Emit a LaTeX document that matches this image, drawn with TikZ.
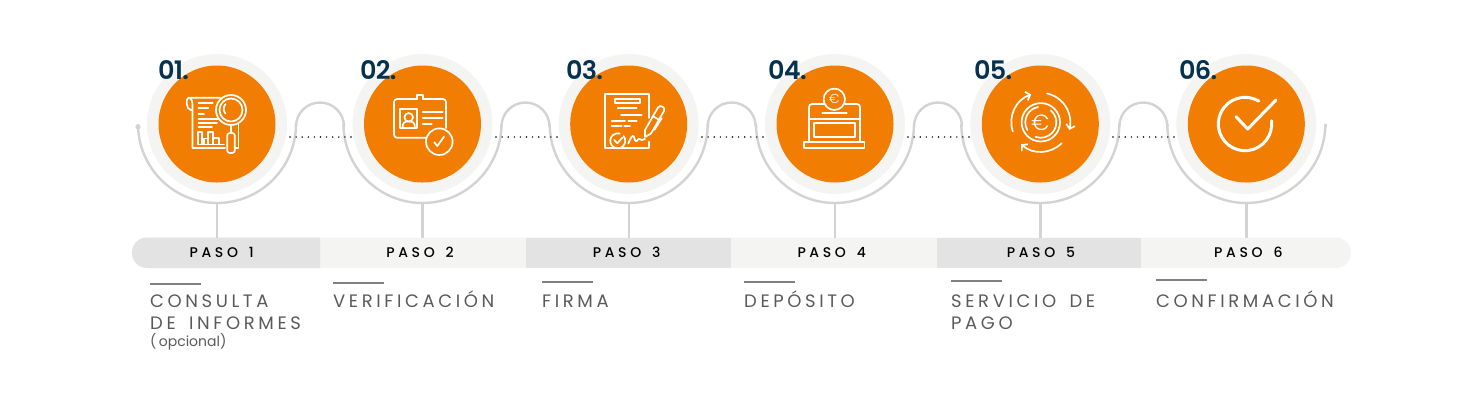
\documentclass[tikz,border=0pt]{standalone}
\usepackage{fontspec}
\setmainfont{Poppins}
\newfontfamily\numfont[LetterSpace=-3]{Poppins SemiBold}
\newfontfamily\pasofont[LetterSpace=26,WordSpace=1.5]{Poppins Medium}
\newfontfamily\capfont[LetterSpace=20,WordSpace=1.6]{Poppins}
\newfontfamily\thinfont{Poppins Light}
\usetikzlibrary{arrows.meta}
\definecolor{discorange}{HTML}{F17E02}
\definecolor{ringgrey}{HTML}{F4F4F3}
\definecolor{wiregrey}{HTML}{D3D3D3}
\definecolor{bardark}{HTML}{E3E3E3}
\definecolor{numblue}{HTML}{05324F}
\definecolor{capgrey}{HTML}{5A5A5A}
\begin{document}
\begin{tikzpicture}[x=1pt,y=-1pt]
        \tikzset{
            wire/.style={draw=wiregrey,line width=2.4pt},
            ring/.style={circle,fill=ringgrey,minimum size=140pt,inner sep=0pt},
            disc/.style={circle,fill=discorange,minimum size=117pt,inner sep=0pt},
            dots/.style={line width=1.6pt,line cap=round,dash pattern=on 0pt off 6.1pt},
            numlabel/.style={anchor=base west,inner sep=0pt,text=numblue,font=\numfont\fontsize{25.5}{26}\selectfont},
            pasolabel/.style={inner sep=0pt,text=black,font=\pasofont\fontsize{14}{14}\selectfont},
            caplabel/.style={anchor=base west,inner sep=0pt,align=left,text=capgrey,font=\capfont\fontsize{18}{22}\selectfont},
            rulebar/.style={draw=gray,line width=2pt},
            icon/.style={draw=white,line width=1.7pt,line cap=round,line join=round},
            iconbold/.style={draw=white,line width=3pt,line cap=round,line join=round},
            tipped/.style={icon,-{Straight Barb[length=4pt,width=9pt]}}
          }
        \useasboundingbox (0,0) rectangle (1480,400);

        % bar
        \fill[ringgrey,rounded corners=15pt] (132,237.5) rectangle (1351,268);
        \fill[bardark] (320,237.5) [rounded corners=15pt] -- (132,237.5) -- (132,268) [sharp corners] -- (320,268) -- cycle;
        \fill[bardark] (525.5,237.5) rectangle (731,268);
        \fill[bardark] (937,237.5) rectangle (1141,268);

        % rings and wire
        \foreach \i/\cx in {1/217,2/422.5,3/628.7,4/835,5/1040.3,6/1246.3}{
            \node[ring] (ring\i) at (\cx,124) {};
            \coordinate (wb\i) at (\cx,203);
            \coordinate (bt\i) at (\cx,237.5);
            \draw[wire] (wb\i) -- (bt\i);
            \draw[wire] (\cx-79,124) arc (180:0:79);
        }
        \coordinate (wirestart) at (138,124);
        \fill[wiregrey] (wirestart) ++(0,3) circle (2.6pt);
        \draw[wire] (138,127) -- (wirestart);
        \coordinate (wireend) at (1325.3,127);
        \draw[wire] (1325.3,124) -- (wireend);
        \foreach \cx in {296,501.5,707.7,914,1119.3}{
            \draw[wire] (\cx,124) -- ++(0,2.5) arc (180:360:24) -- ++(0,-2.5);
        }

        % dotted links
        \foreach \i/\a/\b in {1/290/354,2/496/559,3/702/764,4/908/970,5/1113/1175}{
            \coordinate (da\i) at (\a,137);
            \coordinate (db\i) at (\b,137);
            \draw[dots] (da\i) -- (db\i);
        }

        % discs
        \foreach \i/\cx in {1/217,2/422.5,3/628.7,4/835,5/1040.3,6/1246.3}{
            \node[disc] (disc\i) at (\cx,124) {};
        }

        % numbers
        \node[numlabel] (num1) at (158,79) {01.};
        \node[numlabel] (num2) at (360,79) {02.};
        \node[numlabel] (num3) at (566,79) {03.};
        \node[numlabel] (num4) at (768,79) {04.};
        \node[numlabel] (num5) at (974,79) {05.};
        \node[numlabel] (num6) at (1179,79) {06.};

        % bar labels
        \node[pasolabel] (paso1) at (221.7,252.5) {PASO 1};
        \node[pasolabel] (paso2) at (420,252.5) {PASO 2};
        \node[pasolabel] (paso3) at (626.7,252.5) {PASO 3};
        \node[pasolabel] (paso4) at (831.7,252.5) {PASO 4};
        \node[pasolabel] (paso5) at (1041,252.5) {PASO 5};
        \node[pasolabel] (paso6) at (1248.3,252.5) {PASO 6};

        % captions
        \foreach \i/\x/\y in {1/150/284,2/333/283,3/542/282,4/744/281.5,5/951/280.5,6/1156/280}{
            \coordinate (ra\i) at (\x,\y);
            \coordinate (rb\i) at (\x+51,\y);
            \draw[rulebar] (ra\i) -- (rb\i);
        }
        \node[caplabel] (cap1) at (150,329.5) {CONSULTA\\DE INFORMES};
        \node[anchor=base west,inner sep=0pt,text=capgrey,font=\fontsize{14}{14}\selectfont] (opc1) at (150,346.5) {(\,opcional)};
        \node[caplabel] (cap2) at (333,307.5) {VERIFICACIÓN};
        \node[caplabel] (cap3) at (542,307.5) {FIRMA};
        \node[caplabel] (cap4) at (744,307.5) {DEPÓSITO};
        \node[caplabel] (cap5) at (951,329.5) {SERVICIO DE\\PAGO};
        \node[caplabel] (cap6) at (1156,307.5) {CONFIRMACIÓN};

        % icon 1
        \draw[icon] (220,97.7) -- (188.5,97.7) .. controls (185.5,98) and (186,110) .. (191,110) -- (192.5,110);
        \draw[icon] (188.5,97.7) .. controls (192,98) and (192.5,102) .. (192.5,106) -- (192.5,148) -- (225,148);
        \draw[icon] (238.5,123) -- (238.5,148) -- (235,148);
        \draw[icon] (198.5,103.3) -- (212.7,103.3) (198.5,107.7) -- (208.3,107.7) (198.5,114.3) -- (204,114.3)
            (198.5,119.3) -- (218,119.3) (198.5,123.3) -- (217,123.3) (198.5,127.3) -- (212,127.3);
        \draw[icon] (198,144.5) -- (198,132) -- (202,132) -- (202,144.5) (204,144.5) -- (204,138.5) -- (208,138.5) -- (208,144.5)
            (208,138.5) -- (208,132) -- (213,132) -- (213,144.5) (213,138) -- (219,138) -- (219,144.5) (198,144.5) -- (224,144.5);
        \draw[icon,fill=discorange] (231,110) circle (15);
        \draw[icon] (231,110) circle (11.5);
        \draw[icon] (225.5,104) arc (220:140:7.5);
        \draw[icon] (231,125) -- (231,132.5);
        \draw[icon,rounded corners=2.5pt] (227.2,133) rectangle (234.8,153);

        % icon 2
        \draw[icon,rounded corners=3pt] (417.3,99) -- (394,99) -- (394,137.7) -- (428,137.7) (423.3,99) -- (446,99) -- (446,128);
        \draw[icon] (417.3,99) -- (417.3,95) -- (423.3,95) -- (423.3,99);
        \draw[icon] (400,109) rectangle (417.3,128.3);
        \draw[icon] (408.7,117.3) circle (4.3);
        \draw[icon] (402.5,128) .. controls (402.5,122) and (405,121.5) .. (408.7,121.5) .. controls (412.5,121.5) and (415,122) .. (415,128);
        \draw[icon] (422.7,112.3) -- (442.7,112.3) (422.7,117.7) -- (442.7,117.7) (422.7,124) -- (431.7,124);
        \draw[icon,fill=discorange] (439.3,141.7) circle (13.3);
        \draw[icon] (434.3,142.3) -- (437.3,146) -- (444,136.7);

        % icon 3
        \draw[icon] (649,118) -- (649,94.3) -- (605,94.3) -- (605,148.3) -- (649,148.3) -- (649,141.7);
        \draw[icon] (615,99) rectangle (640,103.3);
        \draw[icon] (617.7,108.3) -- (636.7,108.3) (621,115) -- (641.7,115) (611.7,121) -- (625,121) (628.3,121) -- (636.7,121)
            (611.7,125.7) -- (621.7,125.7) (624.3,125.7) -- (630,125.7);
        \draw[icon] (623.5,136) arc (-40:285:7.5);
        \draw[icon] (614.3,140) -- (617.3,143.3) -- (622.3,137.7);
        \draw[icon] (628.3,143.5) .. controls (631,137) and (633,134) .. (634,137) .. controls (635,141) and (636,143) .. (638,139.5) .. controls (640,137) and (640,142) .. (645,139);
        \draw[icon] (645,137) -- (645,130) -- (658,107.5) .. controls (660,104) and (666,107.5) .. (664,111) -- (651,133.5) -- cycle;
        \draw[icon] (653,116.3) -- (659,119.8) (661.7,118.3) -- (654.3,130);

        % icon 4
        \draw[icon,rounded corners=3pt] (824.3,104) -- (809,104) -- (809,142);
        \draw[icon,rounded corners=3pt] (845,104) -- (860,104) -- (860,142);
        \draw[icon] (834.3,99.3) circle (10.7);
        \node[inner sep=0pt,text=white,font=\thinfont\fontsize{13}{13}\selectfont] (coin) at (834.3,99.3) {€};
        \draw[icon] (822.3,112.7) -- (846.7,112.7) (809,119.3) -- (860,119.3);
        \draw[icon] (814.3,123.3) rectangle (855,137.3);
        \draw[icon] (804.3,142.3) rectangle (864.5,148);

        % icon 5
        \draw[icon] (1040.8,122.3) circle (19.2);
        \draw[icon] (1040.8,122.3) ++(-50:15.5) arc (-50:110:15.5);
        \draw[icon] (1040.8,122.3) ++(150:15.5) arc (150:260:15.5);
        \node[inner sep=0pt,text=white,font=\thinfont\fontsize{22}{22}\selectfont] (coinb) at (1040.3,122.5) {€};
        \draw[tipped] (1040.8,122.3) ++(162:29.5) arc (162:251:29.5);
        \draw[tipped] (1040.8,122.3) ++(-78:29.5) arc (-78:15:29.5);
        \draw[tipped] (1040.8,122.3) ++(45:29.5) arc (45:132:29.5);

        % icon 6
        \draw[iconbold] (1245,124) ++(-7:26.7) arc (-7:301:26.7);
        \draw[iconbold] (1236,116.7) -- (1247.7,129) -- (1276,100);
    \end{tikzpicture}
\end{document}
